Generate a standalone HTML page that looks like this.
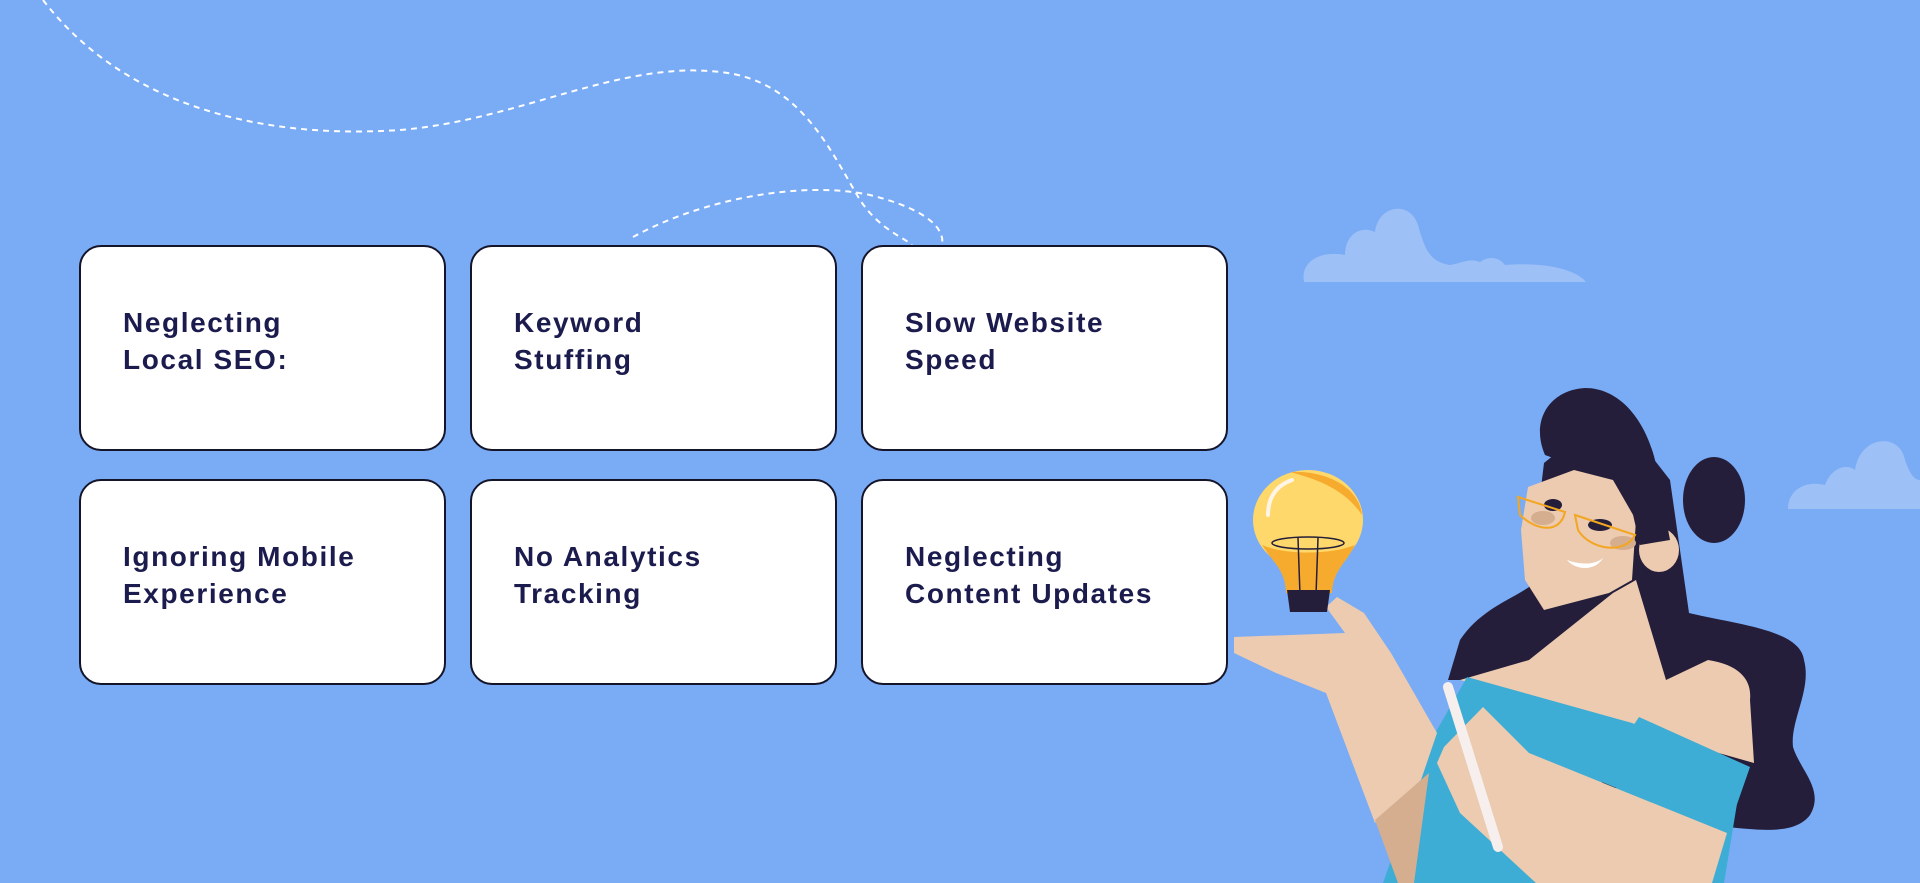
<!DOCTYPE html>
<html><head><meta charset="utf-8"><style>
html,body{margin:0;padding:0}
body{width:1920px;height:883px;background:#7aabf5;position:relative;overflow:hidden;font-family:"Liberation Sans",sans-serif}
.box{position:absolute;width:367px;height:206px;background:#fff;border:2px solid #15152a;border-radius:22px;box-sizing:border-box;display:flex;flex-direction:column;justify-content:center;padding-left:42px;padding-bottom:14px}
.box div{font-weight:bold;font-size:28px;line-height:37px;color:#1b1b4d;letter-spacing:1.6px}
svg{position:absolute;left:0;top:0}
</style></head><body>
<svg width="1920" height="883" viewBox="0 0 1920 883">
<g fill="none" stroke="#fff" stroke-width="2" stroke-dasharray="6 5">
<path d="M43,0 C120,100 250,140 400,130 C520,120 620,60 720,72 C800,80 830,150 860,200 C880,230 905,238 912,245"/>
<path d="M633,237 C700,200 800,180 870,195 C930,210 945,230 942,245"/>
</g>
<g fill="#9dc0f6">
<path d="M1304,282 C1300,262 1320,250 1345,255 C1345,235 1360,225 1375,232 C1378,205 1410,200 1418,225 C1425,250 1430,262 1450,265 C1465,262 1470,258 1480,262 C1490,255 1500,258 1505,265 C1540,262 1575,268 1586,282 Z"/>
<path d="M1788,509 C1788,490 1805,480 1825,485 C1830,470 1845,462 1855,470 C1860,435 1900,432 1905,460 C1910,475 1915,480 1920,480 L1920,509 Z"/>
</g>
<path fill="#241e3a" d="M1544,463 L1613,407 L1670,480 L1689,613 C1740,625 1800,630 1804,660 C1812,690 1790,720 1793,747 C1800,770 1825,790 1810,815 C1795,835 1760,830 1727,827 L1613,680 L1448,680 L1460,640 C1480,610 1510,600 1529,587 Z"/>
<path fill="#eccbb0" d="M1529,660 L1613,593 L1636,580 L1666,680 L1708,660 C1740,665 1752,680 1750,700 L1754,763 L1460,680 Z"/>
<path fill="#3dadd6" d="M1467,677 L1632,723 L1743,767 L1724,883 L1383,883 L1437,730 Z"/>
<path fill="#241e3a" d="M1597,790 L1640,727 L1652,735 L1608,800 Z"/>
<path fill="#3dadd6" d="M1639,717 L1750,767 L1727,833 L1597,780 Z"/>
<path fill="#eccbb0" d="M1234,637 L1345,633 L1326,607 L1337,597 L1364,613 L1391,653 L1437,733 L1421,780 L1375,823 L1326,693 L1276,673 L1234,653 Z"/>
<path fill="#d5ae8f" d="M1375,820 L1429,773 L1414,883 L1398,883 Z"/>
<path fill="#eccbb0" d="M1444,747 L1483,707 L1529,753 L1727,833 L1712,883 L1536,883 L1460,813 L1437,763 Z"/>
<line x1="1448" y1="687" x2="1498" y2="847" stroke="#f6efed" stroke-width="10" stroke-linecap="round"/>
<path fill="#eccbb0" d="M1528,487 L1574,470 L1613,480 L1636,520 L1632,580 L1609,593 L1544,610 L1525,580 L1521,530 Z"/>
<ellipse cx="1659" cy="550" rx="20" ry="22" fill="#eccbb0"/>
<path fill="#241e3a" d="M1545,455 C1530,420 1550,390 1585,388 C1620,388 1645,420 1655,460 L1670,540 L1640,545 L1625,480 C1600,470 1570,465 1545,455 Z"/>
<ellipse cx="1714" cy="500" rx="31" ry="43" fill="#241e3a"/>
<ellipse cx="1553" cy="505" rx="9" ry="6" fill="#241e3a"/>
<ellipse cx="1600" cy="525" rx="12" ry="6" fill="#241e3a"/>
<ellipse cx="1543" cy="518" rx="12" ry="7" fill="#d5ae8f"/>
<ellipse cx="1623" cy="543" rx="13" ry="7" fill="#d5ae8f"/>
<g fill="none" stroke="#f2a622" stroke-width="2"><path d="M1518,497 L1565,512 C1560,535 1535,530 1520,515 Z"/><path d="M1575,515 L1635,535 C1625,555 1590,550 1578,530 Z"/></g>
<path d="M1567,560 C1580,565 1595,565 1603,558 C1595,572 1575,570 1567,560 Z" fill="#fff"/>
<ellipse cx="1308" cy="520" rx="55" ry="50" fill="#ffd86b"/>
<path d="M1290,472 C1330,470 1360,490 1362,515 C1345,490 1320,480 1290,472 Z" fill="#f7ab2e"/>
<path d="M1262,545 C1275,565 1285,570 1286,593 L1332,593 C1333,570 1345,565 1355,545 C1330,555 1285,555 1262,545 Z" fill="#f7ab2e"/>
<path d="M1287,590 L1330,590 L1327,612 L1290,612 Z" fill="#241e3a"/>
<ellipse cx="1308" cy="543" rx="36" ry="6" fill="none" stroke="#241e3a" stroke-width="1.5"/>
<path d="M1298,538 L1300,595 M1318,538 L1316,595" stroke="#241e3a" stroke-width="1.5"/>
<path d="M1268,515 C1268,495 1278,485 1292,480" stroke="#fff5e6" stroke-width="4" fill="none" stroke-linecap="round"/>
</svg>
<div class="box" style="left:79px;top:245px"><div>Neglecting</div><div>Local SEO:</div></div>
<div class="box" style="left:470px;top:245px"><div>Keyword</div><div>Stuffing</div></div>
<div class="box" style="left:861px;top:245px"><div>Slow Website</div><div>Speed</div></div>
<div class="box" style="left:79px;top:479px"><div>Ignoring Mobile</div><div>Experience</div></div>
<div class="box" style="left:470px;top:479px"><div>No Analytics</div><div>Tracking</div></div>
<div class="box" style="left:861px;top:479px"><div>Neglecting</div><div>Content Updates</div></div>
</body></html>
